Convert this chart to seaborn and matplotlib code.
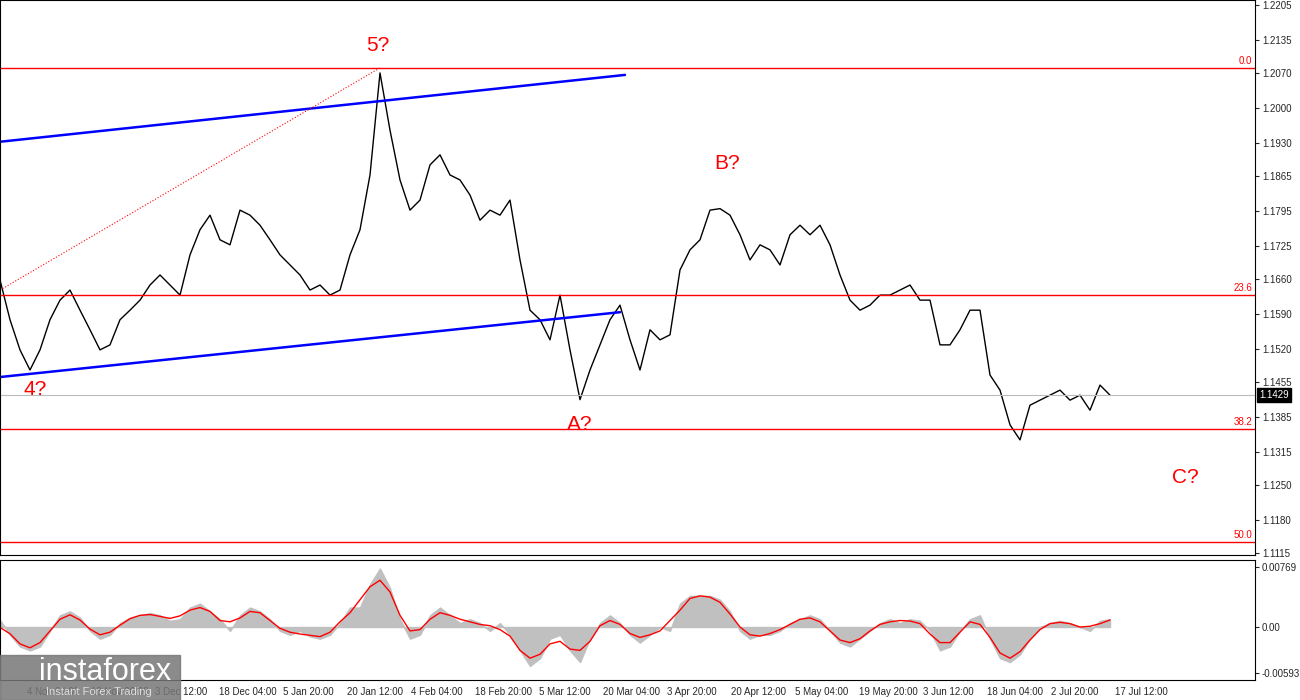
import numpy as np
import pandas as pd
import matplotlib.pyplot as plt
import seaborn as sns
from matplotlib.patches import Rectangle

# price, one value per 10 px step
price = [1.1658, 1.1579, 1.1519, 1.1479, 1.1519, 1.1579, 1.1618, 1.1638, 1.1598, 1.1559,
         1.1519, 1.1529, 1.1579, 1.1598, 1.1618, 1.1648, 1.1668, 1.1648, 1.1628, 1.1708,
         1.1758, 1.1787, 1.1738, 1.1728, 1.1797, 1.1787, 1.1767, 1.1738, 1.1708, 1.1688,
         1.1668, 1.1638, 1.1648, 1.1628, 1.1638, 1.1708, 1.1758, 1.1867, 1.2070, 1.1956,
         1.1857, 1.1797, 1.1817, 1.1887, 1.1907, 1.1867, 1.1857, 1.1827, 1.1777, 1.1797,
         1.1787, 1.1817, 1.1698, 1.1598, 1.1579, 1.1539, 1.1628, 1.1519, 1.1420, 1.1479,
         1.1529, 1.1579, 1.1608, 1.1539, 1.1479, 1.1559, 1.1539, 1.1549, 1.1678, 1.1718,
         1.1738, 1.1797, 1.1800, 1.1787, 1.1748, 1.1698, 1.1728, 1.1718, 1.1688, 1.1748,
         1.1767, 1.1748, 1.1767, 1.1728, 1.1668, 1.1618, 1.1598, 1.1608, 1.1628, 1.1628,
         1.1638, 1.1648, 1.1618, 1.1618, 1.1529, 1.1529, 1.1559, 1.1598, 1.1598, 1.1469,
         1.1439, 1.1370, 1.1340, 1.1409, 1.1419, 1.1429, 1.1439, 1.1419, 1.1429, 1.1399,
         1.1449, 1.1429]

osc = [0.0009, -0.0010, -0.0025, -0.0030, -0.0025, -0.0005, 0.0015, 0.0020, 0.0012, -0.0005,
       -0.0015, -0.0010, 0.0005, 0.0012, 0.0015, 0.0018, 0.0015, 0.0008, 0.0010, 0.0025,
       0.0030, 0.0020, 0.0010, -0.0005, 0.0015, 0.0025, 0.0020, 0.0010, -0.0005, -0.0010,
       -0.0005, -0.0012, -0.0015, -0.0010, 0.0005, 0.0025, 0.0025, 0.0055, 0.0075, 0.0050,
       0.0010, -0.0015, -0.0010, 0.0015, 0.0025, 0.0015, 0.0005, 0.0010, 0.0005, -0.0005,
       0.0005, -0.0010, -0.0030, -0.0050, -0.0040, -0.0015, -0.0010, -0.0030, -0.0045, -0.0015,
       0.0005, 0.0015, 0.0005, -0.0010, -0.0020, -0.0010, 0.0000, -0.0005, 0.0030, 0.0040,
       0.0040, 0.0040, 0.0035, 0.0020, -0.0005, -0.0015, -0.0010, -0.0010, -0.0005, 0.0005,
       0.0010, 0.0015, 0.0010, -0.0005, -0.0020, -0.0025, -0.0015, -0.0005, 0.0005, 0.0010,
       0.0005, 0.0010, 0.0008, -0.0005, -0.0030, -0.0025, -0.0005, 0.0010, 0.0015, -0.0015,
       -0.0040, -0.0045, -0.0035, -0.0015, 0.0000, 0.0005, 0.0008, 0.0005, 0.0000, -0.0005,
       0.0008, 0.0010]

date_labels = ['4 Nov 04:00', '18 Nov 20:00', '3 Dec 12:00', '18 Dec 04:00', '5 Jan 20:00',
               '20 Jan 12:00', '4 Feb 04:00', '18 Feb 20:00', '5 Mar 12:00', '20 Mar 04:00',
               '3 Apr 20:00', '20 Apr 12:00', '5 May 04:00', '19 May 20:00', '3 Jun 12:00',
               '18 Jun 04:00', '2 Jul 20:00', '17 Jul 12:00']
date_pos = [27, 91, 155, 219, 283, 347, 411, 475, 539, 603, 667, 731, 795, 859, 923, 987, 1051, 1115]

price_ticks = [1.2205, 1.2135, 1.2070, 1.2000, 1.1930, 1.1865, 1.1795, 1.1725, 1.1660,
               1.1590, 1.1520, 1.1455, 1.1385, 1.1315, 1.1250, 1.1180, 1.1115]
fib_levels = [1.2080, 1.1628, 1.1362, 1.1137]
fib_names = ['0.0', '23.6', '38.2', '50.0']
last_price = 1.1429

df = pd.DataFrame({'x': np.arange(len(price)) * 10, 'price': price, 'osc': osc})
df['signal'] = df['osc'].rolling(3, center=True, min_periods=1).mean()

sns.set_style("white")
plt.rcParams['font.family'] = ['Liberation Sans', 'DejaVu Sans']
fig = plt.figure(figsize=(13, 7), dpi=100)
ax = fig.add_axes([0, 145 / 700, 1255 / 1300, 555 / 700])
ax2 = fig.add_axes([0, 20 / 700, 1255 / 1300, 120 / 700])

sns.lineplot(data=df, x='x', y='price', ax=ax, color='black', lw=1)
ax.set_xlim(0, 1255)
ax.set_ylim(1.1111, 1.2215)
for lvl, name in zip(fib_levels, fib_names):
    ax.axhline(lvl, color='red', lw=1)
    ax.text(1252, lvl + 0.0004, name, color='red', fontsize=7, ha='right', va='bottom')
ax.axhline(last_price, color='#bbbbbb', lw=0.8)
ax.plot([0, 625], [1.1933, 1.2066], color='blue', lw=1.8)
ax.plot([0, 620], [1.1465, 1.1594], color='blue', lw=1.8)
ax.plot([0, 380], [1.1638, 1.2080], color='red', lw=0.8, ls=':')
for txt, xx, yy in [('5?', 378, 1.2125), ('4?', 35, 1.1440), ('A?', 580, 1.1370),
                    ('B?', 727, 1.1890), ('C?', 1185, 1.1265)]:
    ax.text(xx, yy, txt, color='red', fontsize=15, ha='center', va='center')

ax.yaxis.tick_right()
ax.set_yticks(price_ticks)
ax.set_yticklabels([f'{t:.4f}' for t in price_ticks], fontsize=7)
ax.text(1259, last_price, f'{last_price:.4f}', transform=ax.transData, fontsize=7,
        color='white', va='center', ha='left', clip_on=False,
        bbox=dict(boxstyle='square,pad=0.2', fc='black', ec='black'))
ax.set_xticks([])
ax.set_xlabel('')
ax.set_ylabel('')

ax2.fill_between(df['x'], 0, df['osc'], color='#c0c0c0')
sns.lineplot(data=df, x='x', y='signal', ax=ax2, color='red', lw=1)
ax2.set_xlim(0, 1255)
ax2.set_ylim(-0.0068, 0.0086)
ax2.yaxis.tick_right()
ax2.set_yticks([0.00769, 0.0, -0.00593])
ax2.set_yticklabels(['0.00769', '0.00', '-0.00593'], fontsize=7)
ax2.set_xticks(date_pos)
ax2.set_xticklabels(date_labels, fontsize=7, ha='left')
ax2.tick_params(axis='x', length=3, pad=2)
ax2.set_xlabel('')
ax2.set_ylabel('')

for a in (ax, ax2):
    for s in a.spines.values():
        s.set_color('black')
        s.set_linewidth(0.8)
    a.tick_params(axis='y', length=3, pad=2)

# watermark over the first date labels, as in the source
fig.patches.append(Rectangle((0, 0), 180 / 1300, 45 / 700, transform=fig.transFigure,
                             color='#777777', alpha=0.85, zorder=10))
fig.text(0.03, 0.04, 'instaforex', color='white', fontsize=22, zorder=11, va='center')
fig.text(0.035, 0.012, 'Instant Forex Trading', color='#dddddd', fontsize=8, zorder=11, va='center')

fig.savefig('out.png', dpi=100)
